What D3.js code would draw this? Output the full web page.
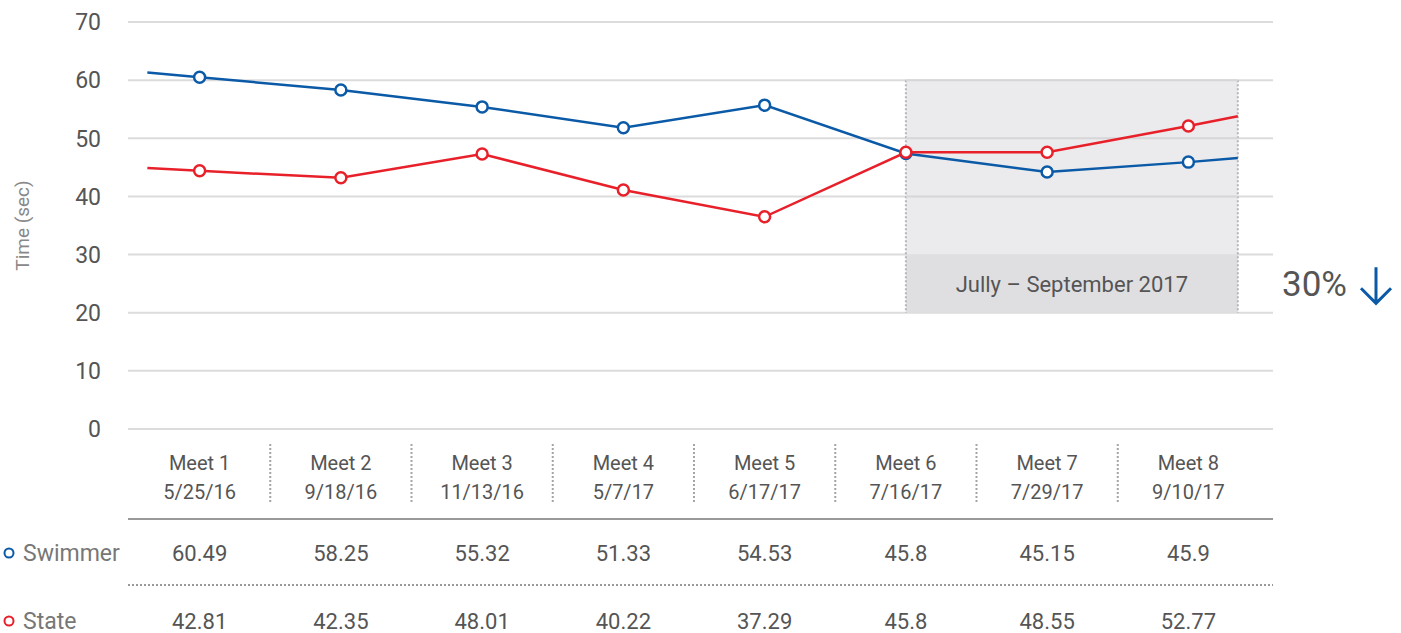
<!DOCTYPE html>
<html lang="en">
  <head>
    <meta charset="utf-8">
    <title>Swimmer vs State times</title>
    <style>
      body { margin: 0; background: #fff; font-family: Roboto, "Noto Sans", sans-serif; }
      svg text { fill: #555; }
    </style>
  </head>
  <body>
    <svg id="chart" width="1401" height="633"></svg>
    <script src="https://d3js.org/d3.v7.min.js"></script>
    <script>
      // meets and their dates
      const meets = ["Meet 1", "Meet 2", "Meet 3", "Meet 4", "Meet 5", "Meet 6", "Meet 7", "Meet 8"];
      const dates = ["5/25/16", "9/18/16", "11/13/16", "5/7/17", "6/17/17", "7/16/17", "7/29/17", "9/10/17"];

      // values as plotted
      const swimmerPlot = [60.5, 58.3, 55.4, 51.8, 55.7, 47.4, 44.2, 45.9];
      const statePlot = [44.4, 43.2, 47.3, 41.1, 36.5, 47.6, 47.6, 52.1];
      // lines run a bit past the first and last meet
      const swimmerEnds = [61.3, 46.6];
      const stateEnds = [44.9, 53.8];

      // values printed in the table
      const swimmerTable = ["60.49", "58.25", "55.32", "51.33", "54.53", "45.8", "45.15", "45.9"];
      const stateTable = ["42.81", "42.35", "48.01", "40.22", "37.29", "45.8", "48.55", "52.77"];

      const yTicks = [0, 10, 20, 30, 40, 50, 60, 70];
      const highlight = {from: "Meet 6", to: "Meet 8", top: 60, bottom: 20, bandTop: 30, label: "Jully – September 2017"};
      const change = "30%";

      const blue = "#0a5aa7", red = "#e8202a";

      const svg = d3.select("#chart");
      const left = 128, right = 1273;

      const x = d3.scaleBand().domain(meets).range([129, 1259]);
      const cx = m => x(m) + x.bandwidth() / 2;
      const y = d3.scaleLinear().domain([0, 70]).range([429, 22]);

      // gridlines + y labels
      svg.append("g").selectAll("line").data(yTicks).join("line")
        .attr("x1", left).attr("x2", right)
        .attr("y1", d => y(d)).attr("y2", d => y(d))
        .attr("stroke", "#dcdcdc").attr("stroke-width", 2);

      svg.append("g").selectAll("text").data(yTicks).join("text")
        .attr("x", 101).attr("y", d => y(d)).attr("dy", "0.36em")
        .attr("text-anchor", "end").style("font-size", "23px").style("fill", "#555")
        .text(d => d);

      svg.append("text")
        .attr("transform", `translate(29,${y(35)}) rotate(-90)`)
        .attr("text-anchor", "middle").style("font-size", "19px").style("fill", "#888")
        .text("Time (sec)");

      // highlighted period
      const hx0 = cx(highlight.from), hx1 = cx(highlight.to) + x.bandwidth() * 0.35;
      const hl = svg.append("g");
      hl.append("rect").attr("x", hx0).attr("y", y(highlight.top))
        .attr("width", hx1 - hx0).attr("height", y(highlight.bandTop) - y(highlight.top))
        .attr("fill", "#ebebed");
      hl.append("rect").attr("x", hx0).attr("y", y(highlight.bandTop))
        .attr("width", hx1 - hx0).attr("height", y(highlight.bottom) - y(highlight.bandTop))
        .attr("fill", "#dfdfe1");
      hl.selectAll("line").data([hx0, hx1]).join("line")
        .attr("x1", d => d).attr("x2", d => d)
        .attr("y1", y(highlight.top)).attr("y2", y(highlight.bottom))
        .attr("stroke", "#b5b5b8").attr("stroke-width", 2).attr("stroke-dasharray", "2,2");
      hl.append("text").attr("x", (hx0 + hx1) / 2).attr("y", (y(highlight.bandTop) + y(highlight.bottom)) / 2)
        .attr("dy", "0.36em").attr("text-anchor", "middle")
        .style("font-size", "22px").style("fill", "#555")
        .text(highlight.label);

      // faint gridlines show through the box
      svg.append("g").selectAll("line").data(yTicks.filter(d => d > highlight.bottom && d <= highlight.top && d !== highlight.bandTop)).join("line")
        .attr("x1", hx0).attr("x2", hx1)
        .attr("y1", d => y(d)).attr("y2", d => y(d))
        .attr("stroke", "#d6d6d8").attr("stroke-width", 2);

      // 30% arrow
      svg.append("text").attr("x", 1282).attr("y", y(25)).attr("dy", "0.36em")
        .style("font-size", "35px").style("fill", "#555").text(change);
      const ax = 1376;
      svg.append("path")
        .attr("d", `M${ax},${y(27.8)} V${y(21.6)} M${ax - 15},${y(24.2)} L${ax},${y(21.6)} L${ax + 15},${y(24.2)}`)
        .attr("fill", "none").attr("stroke", blue).attr("stroke-width", 3);

      // series lines
      const step = x.step();
      function drawSeries(vals, ends, color) {
        const pts = vals.map((v, i) => [cx(meets[i]), y(v)]);
        pts.unshift([cx(meets[0]) - step * 0.37, y(ends[0])]);
        pts.push([cx(meets[meets.length - 1]) + step * 0.35, y(ends[1])]);
        svg.append("path").attr("d", d3.line()(pts))
          .attr("fill", "none").attr("stroke", color).attr("stroke-width", 2.5);
        svg.append("g").selectAll("circle").data(vals).join("circle")
          .attr("cx", (d, i) => cx(meets[i])).attr("cy", d => y(d)).attr("r", 5.5)
          .attr("fill", "#fff").attr("stroke", color).attr("stroke-width", 2.5);
      }
      drawSeries(swimmerPlot, swimmerEnds, blue);
      drawSeries(statePlot, stateEnds, red);

      // table header
      const head = svg.append("g");
      head.selectAll("text.meet").data(meets).join("text").attr("class", "meet")
        .attr("x", d => cx(d)).attr("y", 470).attr("text-anchor", "middle")
        .style("font-size", "20px").text(d => d);
      head.selectAll("text.date").data(dates).join("text").attr("class", "date")
        .attr("x", (d, i) => cx(meets[i])).attr("y", 499).attr("text-anchor", "middle")
        .style("font-size", "20px").text(d => d);
      head.selectAll("line").data(meets.slice(1)).join("line")
        .attr("x1", d => x(d)).attr("x2", d => x(d)).attr("y1", 444).attr("y2", 503)
        .attr("stroke", "#a5a5a5").attr("stroke-width", 2).attr("stroke-dasharray", "2,2");

      svg.append("line").attr("x1", left).attr("x2", right).attr("y1", 519).attr("y2", 519)
        .attr("stroke", "#999").attr("stroke-width", 2);
      svg.append("line").attr("x1", left).attr("x2", right).attr("y1", 585).attr("y2", 585)
        .attr("stroke", "#999").attr("stroke-width", 2).attr("stroke-dasharray", "2,2");

      // table rows
      const rows = [
        {name: "Swimmer", vals: swimmerTable, color: blue, cy: 553},
        {name: "State", vals: stateTable, color: red, cy: 621}
      ];
      rows.forEach(r => {
        svg.append("circle").attr("cx", 9).attr("cy", r.cy).attr("r", 4.5)
          .attr("fill", "#fff").attr("stroke", r.color).attr("stroke-width", 2);
        svg.append("text").attr("x", 23).attr("y", r.cy).attr("dy", "0.36em")
          .style("font-size", "23px").style("fill", "#777").text(r.name);
        svg.append("g").selectAll("text").data(r.vals).join("text")
          .attr("x", (d, i) => cx(meets[i])).attr("y", r.cy).attr("dy", "0.36em")
          .attr("text-anchor", "middle").style("font-size", "22px").text(d => d);
      });
    </script>
  </body>
</html>
